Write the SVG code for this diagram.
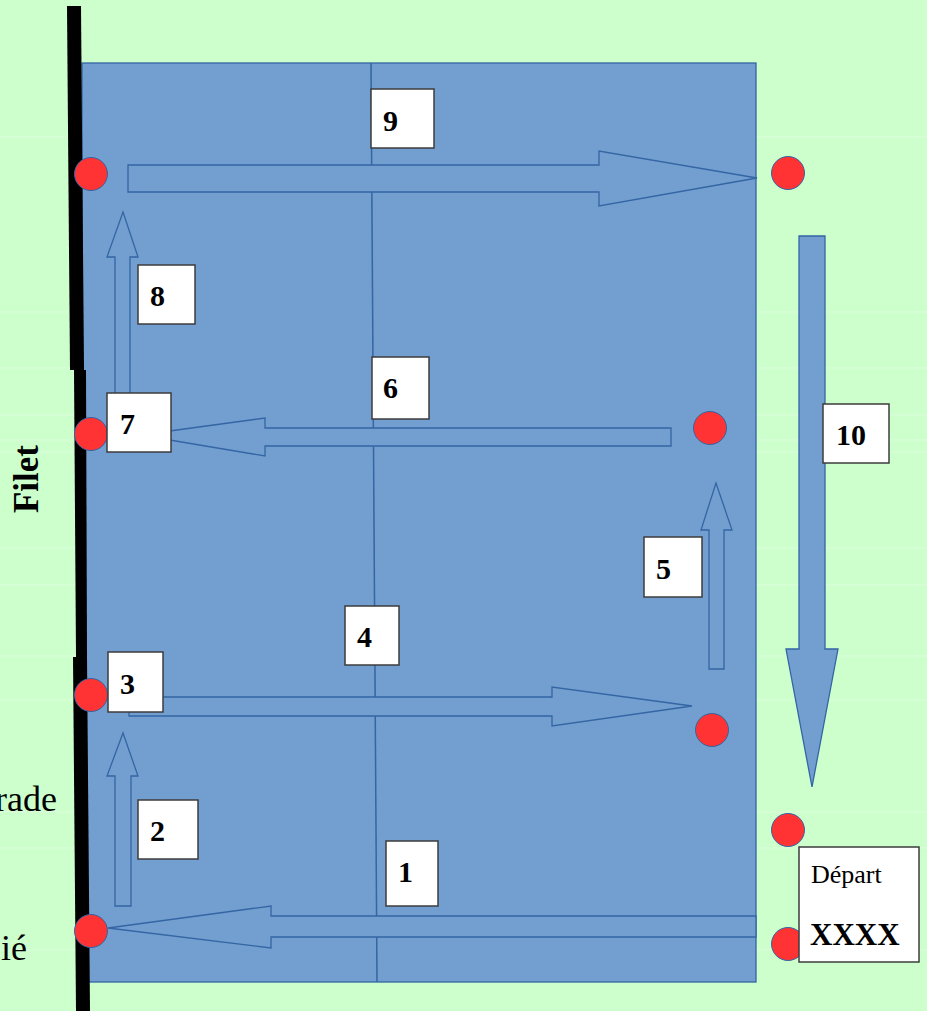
<svg xmlns="http://www.w3.org/2000/svg" width="927" height="1011" viewBox="0 0 927 1011">
<style>
.grid{stroke:#dcfcdc;stroke-width:1;fill:none}
.arrow{fill:#729fcf;stroke:#3465a4;stroke-width:1.3;stroke-linejoin:miter}
.dot{fill:#ff3333;stroke:#3465a4;stroke-width:1}
.box{fill:#ffffff;stroke:#3c3c3c;stroke-width:1.5}
.num{font-family:"Liberation Serif","Times New Roman",serif;font-weight:bold;font-size:30px;fill:#000}
.side{font-family:"Liberation Serif","Times New Roman",serif;font-size:36px;fill:#000}
</style>
<rect x="0" y="0" width="927" height="1011" fill="#ccffcc"/>
<g id="grid">
<path class="grid" d="M0,137H927M0,312H927M0,368H927M0,415H927M0,440H927M0,452H927M0,548H927M0,585H927M0,656H927M0,700H927M0,812H927M0,848H927M0,950H927"/>
</g>
<g id="court">
<rect x="82" y="63" width="674" height="919" fill="#729fcf" stroke="#3465a4" stroke-width="1.3"/>
<path d="M371,63 L377,982" stroke="#3465a4" stroke-width="1.5" fill="none"/>
</g>
<g id="net">
<polygon points="67,6 81,6 84,370 70,370" fill="#000"/>
<polygon points="74,370 86,370 87,657 76,657" fill="#000"/>
<polygon points="73,657 87,657 90,1011 76,1011" fill="#000"/>
</g>
<g id="labels">
<text class="side" x="57" y="811" text-anchor="end">rade</text>
<text class="side" x="27" y="960" text-anchor="end">ié</text>
<text x="38" y="479" transform="rotate(-90 38 479)" text-anchor="middle" font-family="Liberation Serif, Times New Roman, serif" font-weight="bold" font-size="35" fill="#000">Filet</text>
</g>
<g id="connectors">
<path class="arrow" d="M128,165 H599 V151 L757,178 L599,206 V192 H128 Z"/>
<path class="arrow" d="M115,395 V257 H107 L123,212 L138,257 H130 V395 Z"/>
<path class="arrow" d="M671,428 H265 V418 L140,435 L265,456 V446 H671 Z"/>
<path class="arrow" d="M129,697 H552 V687 L692,706 L552,726 V716 H129 Z"/>
<path class="arrow" d="M115,906 V776 H107 L123,733 L138,776 H131 V906 Z"/>
<path class="arrow" d="M756,916 H271 V906 L108,928 L271,948 V937 H756 Z"/>
<path class="arrow" d="M709,669 V530 H701 L716,483 L732,530 H724 V669 Z"/>
<path class="arrow" d="M799,236 H825 V649 H838 L812,787 L786,649 H799 Z"/>
</g>
<g id="dots">
<circle class="dot" cx="91" cy="174" r="16.5"/>
<circle class="dot" cx="788" cy="173" r="16.5"/>
<circle class="dot" cx="91" cy="434" r="16.5"/>
<circle class="dot" cx="710" cy="428" r="16.5"/>
<circle class="dot" cx="91" cy="695" r="16.5"/>
<circle class="dot" cx="712" cy="730" r="16.5"/>
<circle class="dot" cx="91" cy="931" r="16.5"/>
<circle class="dot" cx="788" cy="830" r="16.5"/>
<circle class="dot" cx="788" cy="944" r="16.5"/>
</g>
<g id="node-9"><rect class="box" x="371" y="89" width="63" height="59"/><text class="num" x="383" y="131">9</text></g>
<g id="node-8"><rect class="box" x="138" y="265" width="57" height="59"/><text class="num" x="150" y="306">8</text></g>
<g id="node-7"><rect class="box" x="107" y="393" width="64" height="59"/><text class="num" x="120" y="434">7</text></g>
<g id="node-6"><rect class="box" x="372" y="357" width="57" height="62"/><text class="num" x="383" y="398">6</text></g>
<g id="node-10"><rect class="box" x="823" y="404" width="66" height="59"/><text class="num" x="836" y="445">10</text></g>
<g id="node-5"><rect class="box" x="644" y="537" width="58" height="60"/><text class="num" x="656" y="579">5</text></g>
<g id="node-4"><rect class="box" x="345" y="606" width="54" height="59"/><text class="num" x="357" y="647">4</text></g>
<g id="node-3"><rect class="box" x="108" y="652" width="55" height="60"/><text class="num" x="120" y="694">3</text></g>
<g id="node-2"><rect class="box" x="138" y="800" width="60" height="59"/><text class="num" x="150" y="841">2</text></g>
<g id="node-1"><rect class="box" x="386" y="841" width="52" height="65"/><text class="num" x="398" y="882">1</text></g>
<g id="node-depart">
<rect class="box" x="799" y="847" width="120" height="115"/>
<text x="811" y="883" font-family="Liberation Serif, Times New Roman, serif" font-size="26" fill="#000">Départ</text>
<text x="810" y="945" font-family="Liberation Serif, Times New Roman, serif" font-weight="bold" font-size="31" fill="#000">XXXX</text>
</g>
</svg>
